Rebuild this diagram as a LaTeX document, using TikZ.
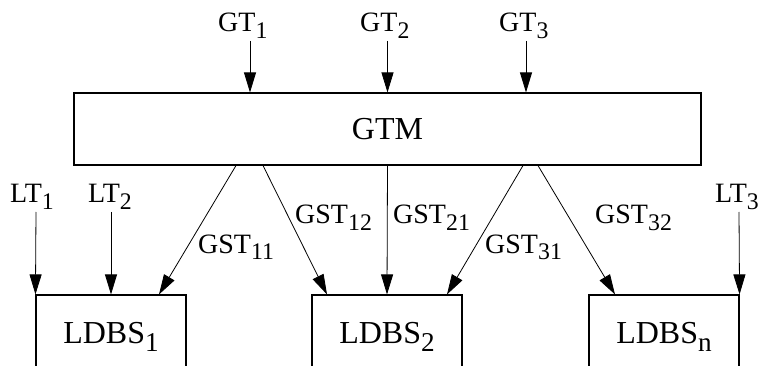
\documentclass[tikz,border=0pt]{standalone}
\usepackage{fontspec}
\setmainfont{Liberation Serif}
\usepackage{graphicx}
\usetikzlibrary{arrows.meta}
\newcommand\lsub[1]{\raisebox{-0.24em}{\scalebox{0.85}{#1}}}
\begin{document}
\begin{tikzpicture}[x=1pt,y=-1pt,
  lab/.style={inner sep=0pt,anchor=base west,font=\fontsize{28}{30}\selectfont},
  box/.style={draw,line width=1.1pt,inner sep=0pt,font=\fontsize{32}{34}\selectfont},
  ldbs/.style={box,minimum width=150pt,minimum height=86pt,text height=21.7pt,text depth=11pt},
  arr/.style={line width=0.8pt,-{Triangle[length=20pt,width=12pt]}}]
\useasboundingbox (0,0) rectangle (763,366);
\clip (0,0) rectangle (763,366);

% boxes
\node[box,minimum width=627pt,minimum height=72pt] (gtm) at (387.5,129) {GTM};
\node[ldbs] (l1) at (111,338) {LDBS\lsub{1}};
\node[ldbs] (l2) at (387,338) {LDBS\lsub{2}};
\node[ldbs] (ln) at (664,338) {LDBS\lsub{n}};

% top labels and arrows
\node[lab] (gt1) at (218,32) {GT\lsub{1}};
\node[lab] (gt2) at (360,32) {GT\lsub{2}};
\node[lab] (gt3) at (499,32) {GT\lsub{3}};
\coordinate (g1) at (250,41);
\coordinate (g2) at (387.5,41);
\coordinate (g3) at (526,41);
\draw[arr] (g1) -- (g1 |- gtm.north);
\draw[arr] (g2) -- (g2 |- gtm.north);
\draw[arr] (g3) -- (g3 |- gtm.north);

% local transactions
\node[lab] (lt1) at (10,203) {LT\lsub{1}};
\node[lab] (lt2) at (88,203) {LT\lsub{2}};
\node[lab] (lt3) at (715,203) {LT\lsub{3}};
\coordinate (t1) at (36,212);
\coordinate (t2) at (111,212);
\coordinate (t3) at (739,212);
\draw[arr] (t1) -- (l1.north west);
\draw[arr] (t2) -- (l1.north);
\draw[arr] (t3) -- (ln.north east);

% global subtransactions
\draw[arr] ([xshift=-151.5pt]gtm.south) -- ([xshift=48pt]l1.north);
\draw[arr] ([xshift=-124.5pt]gtm.south) -- ([xshift=-60pt]l2.north);
\draw[arr] (gtm.south) -- (l2.north);
\draw[arr] ([xshift=135.5pt]gtm.south) -- ([xshift=60pt]l2.north);
\draw[arr] ([xshift=150.5pt]gtm.south) -- ([xshift=-49pt]ln.north);

\node[lab] (s11) at (198,253) {GST\lsub{11}};
\node[lab] (s12) at (295,224) {GST\lsub{12}};
\node[lab] (s21) at (393,224) {GST\lsub{21}};
\node[lab] (s31) at (485,253) {GST\lsub{31}};
\node[lab] (s32) at (595,224) {GST\lsub{32}};
\end{tikzpicture}
\end{document}
